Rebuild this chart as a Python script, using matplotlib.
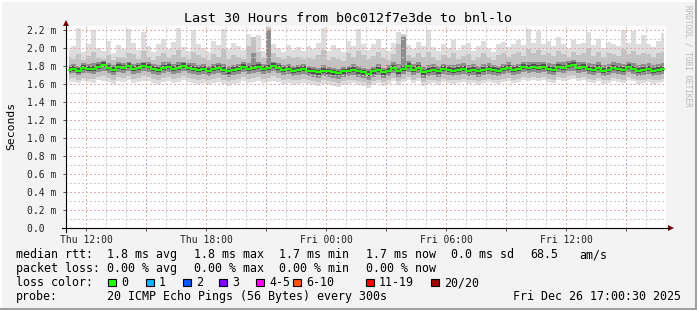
import matplotlib
matplotlib.use("Agg")
import matplotlib.pyplot as plt
from matplotlib.lines import Line2D
from matplotlib.patches import Polygon, Rectangle
import numpy as np

# ---------------- data (ms) ----------------
# one sample every 15 minutes starting Thu 11:00 (hours from start)
median = [1.76,1.77,1.75,1.78,1.77,1.77,1.79,1.81,1.78,1.76,1.79,1.78,1.80,1.77,1.78,1.80,1.79,1.77,1.76,1.78,1.79,1.77,1.78,1.80,
          1.78,1.77,1.76,1.77,1.75,1.77,1.78,1.76,1.74,1.76,1.77,1.79,1.77,1.78,1.79,1.77,1.78,1.80,1.78,1.76,1.77,1.75,1.76,1.77,
          1.75,1.74,1.73,1.75,1.74,1.73,1.72,1.74,1.75,1.76,1.74,1.73,1.71,1.74,1.76,1.73,1.75,1.78,1.74,1.77,1.80,1.76,1.78,1.73,
          1.75,1.76,1.74,1.77,1.76,1.75,1.76,1.77,1.75,1.76,1.74,1.76,1.77,1.76,1.75,1.77,1.78,1.76,1.77,1.79,1.78,1.79,1.78,1.79,
          1.77,1.76,1.79,1.78,1.80,1.81,1.78,1.79,1.77,1.76,1.78,1.75,1.76,1.78,1.77,1.76,1.79,1.77,1.75,1.76,1.77,1.75,1.76,1.77]
ping_max = [1.98,2.02,2.22,1.96,2.05,2.20,2.00,1.97,2.08,1.95,2.03,1.99,2.21,2.06,1.98,2.18,2.02,1.96,2.04,2.10,1.99,2.07,2.22,2.01,
            1.97,2.20,2.05,2.00,1.96,2.08,2.03,2.21,1.99,2.06,2.02,1.98,2.16,2.04,2.14,1.97,2.24,2.05,2.00,1.96,2.03,1.98,2.01,1.97,
            2.02,1.99,2.06,2.22,1.97,2.03,2.00,1.96,2.08,2.02,2.21,2.04,1.98,2.05,2.10,2.00,1.97,2.06,2.18,2.16,2.03,1.99,2.07,2.02,
            2.20,2.01,1.97,2.05,2.00,2.09,1.98,2.03,2.06,1.97,2.02,2.08,2.00,1.96,2.04,2.07,2.01,2.05,2.09,2.03,2.21,2.06,2.19,2.04,
            2.08,2.02,2.12,2.05,2.00,2.09,2.04,2.06,2.18,2.03,2.10,2.00,2.07,2.05,2.02,2.20,2.06,2.19,2.04,2.14,2.05,2.01,2.08,2.17]
ping_p90 = [1.90,1.88,1.93,1.87,1.91,1.96,1.89,1.88,1.92,1.87,1.90,1.89,1.95,1.93,1.88,1.97,1.90,1.87,1.91,1.94,1.89,1.92,1.98,1.90,
            1.88,1.96,1.92,1.89,1.87,1.93,1.90,1.99,1.88,1.92,1.90,1.88,2.02,2.12,1.96,1.89,2.22,1.94,1.90,1.88,1.91,1.89,1.90,1.88,
            1.89,1.88,1.92,1.98,1.87,1.90,1.88,1.86,1.94,1.90,1.97,1.92,1.88,1.91,1.96,1.89,1.87,1.93,2.05,2.15,1.92,1.89,1.94,1.90,
            1.96,1.90,1.87,1.92,1.89,1.94,1.88,1.91,1.93,1.87,1.90,1.95,1.89,1.87,1.92,1.94,1.90,1.93,1.96,1.91,1.99,1.94,1.98,1.92,
            1.95,1.91,1.97,1.93,1.90,1.96,1.92,1.94,2.00,1.91,1.96,1.90,1.94,1.93,1.91,1.99,1.93,1.97,1.92,1.95,1.93,1.90,1.94,1.96]
ping_p75 = [1.81,1.82,1.80,1.83,1.82,1.83,1.84,1.86,1.83,1.81,1.84,1.83,1.85,1.82,1.83,1.85,1.84,1.82,1.81,1.84,1.84,1.82,1.84,1.85,
            1.83,1.83,1.81,1.82,1.80,1.82,1.83,1.82,1.80,1.81,1.82,1.84,1.83,1.95,1.85,1.82,2.20,1.85,1.83,1.81,1.82,1.80,1.81,1.82,
            1.80,1.79,1.78,1.81,1.79,1.78,1.77,1.79,1.80,1.82,1.80,1.78,1.77,1.79,1.82,1.78,1.81,1.84,1.82,2.12,1.86,1.82,1.84,1.79,
            1.81,1.82,1.80,1.82,1.81,1.81,1.82,1.83,1.81,1.82,1.80,1.82,1.83,1.81,1.80,1.82,1.84,1.81,1.82,1.85,1.84,1.85,1.84,1.85,
            1.83,1.82,1.85,1.84,1.86,1.87,1.84,1.85,1.83,1.82,1.84,1.81,1.82,1.84,1.83,1.82,1.85,1.83,1.81,1.82,1.83,1.81,1.82,1.83]
ping_p25 = [1.71,1.72,1.70,1.72,1.72,1.71,1.73,1.74,1.72,1.70,1.73,1.72,1.74,1.71,1.72,1.74,1.73,1.71,1.70,1.72,1.73,1.71,1.72,1.74,
            1.72,1.71,1.70,1.71,1.69,1.71,1.72,1.70,1.68,1.70,1.71,1.73,1.71,1.72,1.73,1.71,1.72,1.74,1.72,1.70,1.71,1.69,1.70,1.71,
            1.69,1.68,1.67,1.69,1.68,1.67,1.66,1.68,1.69,1.70,1.68,1.67,1.65,1.68,1.70,1.67,1.69,1.72,1.68,1.71,1.73,1.70,1.72,1.67,
            1.69,1.70,1.68,1.71,1.70,1.69,1.70,1.71,1.69,1.70,1.68,1.70,1.71,1.70,1.69,1.71,1.72,1.70,1.71,1.73,1.72,1.73,1.72,1.73,
            1.71,1.70,1.73,1.72,1.74,1.75,1.72,1.73,1.71,1.70,1.72,1.69,1.70,1.72,1.71,1.70,1.73,1.71,1.69,1.70,1.71,1.69,1.70,1.71]
ping_p10 = [1.66,1.67,1.65,1.67,1.66,1.66,1.68,1.69,1.67,1.65,1.68,1.67,1.69,1.66,1.67,1.69,1.68,1.66,1.65,1.67,1.68,1.66,1.67,1.69,
            1.67,1.66,1.65,1.66,1.64,1.66,1.67,1.65,1.63,1.65,1.66,1.68,1.66,1.67,1.68,1.66,1.67,1.69,1.67,1.65,1.66,1.64,1.65,1.66,
            1.64,1.63,1.62,1.64,1.63,1.62,1.61,1.63,1.64,1.65,1.63,1.62,1.60,1.63,1.65,1.62,1.64,1.67,1.63,1.66,1.68,1.65,1.67,1.62,
            1.64,1.65,1.63,1.66,1.65,1.64,1.65,1.66,1.64,1.65,1.63,1.65,1.66,1.65,1.64,1.66,1.67,1.65,1.66,1.68,1.67,1.68,1.67,1.68,
            1.66,1.65,1.68,1.67,1.69,1.70,1.67,1.68,1.66,1.65,1.67,1.64,1.65,1.67,1.66,1.65,1.68,1.66,1.64,1.65,1.66,1.64,1.65,1.66]
ping_min = [1.63,1.62,1.61,1.63,1.62,1.61,1.64,1.63,1.62,1.60,1.63,1.62,1.64,1.61,1.62,1.63,1.63,1.61,1.60,1.62,1.63,1.61,1.62,1.64,
            1.62,1.61,1.60,1.61,1.59,1.61,1.62,1.60,1.58,1.60,1.61,1.63,1.61,1.62,1.63,1.61,1.62,1.63,1.62,1.60,1.61,1.59,1.60,1.61,
            1.60,1.59,1.58,1.60,1.59,1.58,1.57,1.59,1.60,1.61,1.59,1.58,1.56,1.59,1.61,1.58,1.60,1.63,1.59,1.62,1.64,1.61,1.63,1.58,
            1.60,1.61,1.59,1.62,1.61,1.60,1.61,1.62,1.60,1.61,1.59,1.61,1.62,1.61,1.60,1.62,1.63,1.61,1.62,1.64,1.63,1.64,1.63,1.64,
            1.62,1.61,1.64,1.63,1.65,1.66,1.63,1.64,1.62,1.61,1.63,1.60,1.61,1.63,1.62,1.61,1.64,1.63,1.60,1.61,1.62,1.60,1.61,1.62]
sample_hours = 0.25  # sampling step in hours

y_ticks = [0.0, 0.2, 0.4, 0.6, 0.8, 1.0, 1.2, 1.4, 1.6, 1.8, 2.0, 2.2]
y_labels = ["0.0  ", "0.2 m", "0.4 m", "0.6 m", "0.8 m", "1.0 m", "1.2 m", "1.4 m", "1.6 m", "1.8 m", "2.0 m", "2.2 m"]
x_tick_hours = [1, 7, 13, 19, 25]
x_tick_labels = ["Thu 12:00", "Thu 18:00", "Fri 00:00", "Fri 06:00", "Fri 12:00"]

title = "Last 30 Hours from b0c012f7e3de to bnl-lo"
loss_labels = ["0", "1", "2", "3", "4-5", "6-10", "11-19", "20/20"]
loss_colors = ["#26ff00", "#00b8ff", "#0059ff", "#7e00ff", "#ff00ff", "#ff5500", "#ff0000", "#a10000"]

# ---------------- figure ----------------
W, H = 697, 310
DPI = 100
BG = "#f3f3f3"
MONO = "DejaVu Sans Mono"

fig = plt.figure(figsize=(W / DPI, H / DPI), dpi=DPI, facecolor=BG)

def fx(px):
    return px / W

def fy(py):
    return 1 - py / H

ax_l, ax_r, ax_t, ax_b = 66, 666, 25.5, 228
ax = fig.add_axes([fx(ax_l), fy(ax_b), (ax_r - ax_l) / W, (ax_b - ax_t) / H])
ax.set_facecolor("white")
ax.set_xlim(0, 30)
ax.set_ylim(0, 2.25)

x = np.arange(len(median)) * sample_hours + sample_hours / 2
mn, p10, p25, p75, p90, mx = map(np.array, (ping_min, ping_p10, ping_p25, ping_p75, ping_p90, ping_max))
med = np.array(median)

ax.fill_between(x, mn, mx, step="mid", color="#dddddd", lw=0, zorder=1)
ax.fill_between(x, p10, p90, step="mid", color="#c2c2c2", lw=0, zorder=2)
ax.fill_between(x, p25, p75, step="mid", color="#8e8e8e", lw=0, zorder=3)
ax.fill_between(x, med - 0.025, med + 0.03, step="mid", color="#505050", lw=0, zorder=3.5)

# grid (1px dots, small gaps)
dot = (0, (1, 1.5))
RED, GRAY = "#eba8a8", "#cbcbcb"
for h in range(0, 31):
    ax.axvline(h, color=RED if h % 3 == 1 else GRAY, lw=1.0, ls=dot, zorder=4, antialiased=False)
for k in range(1, 23):
    ax.axhline(k / 10, color=RED if k % 2 == 0 else GRAY, lw=1.0, ls=dot, zorder=4, antialiased=False)

ax.step(x, med, where="mid", color="#26ff00", lw=1.5, zorder=5)

for s in ax.spines.values():
    s.set_visible(False)

ax.set_yticks(y_ticks)
ax.set_yticklabels(y_labels, fontfamily=MONO, fontsize=7, color="#222222")
major_x = list(range(1, 30, 3))
ax.set_xticks(major_x)
ax.set_xticklabels([x_tick_labels[x_tick_hours.index(h)] if h in x_tick_hours else "" for h in major_x],
                   fontfamily=MONO, fontsize=7, color="#222222")
ax.tick_params(axis="both", length=2, width=0.72, color="#555555", pad=3)
ax.tick_params(axis="y", pad=5)

# axis lines with arrows
fig.add_artist(Line2D([fx(66), fx(66)], [fy(232), fy(24)], color="black", lw=0.8))
fig.add_artist(Line2D([fx(62), fx(669)], [fy(228), fy(228)], color="black", lw=0.8))
fig.add_artist(Polygon([[fx(63), fy(26)], [fx(69), fy(26)], [fx(66), fy(20)]], closed=True,
                       color="#7f0000", lw=0))
fig.add_artist(Polygon([[fx(668), fy(225)], [fx(668), fy(231)], [fx(674), fy(228)]], closed=True,
                       color="#7f0000", lw=0))

# title and labels
fig.text(fx(348), fy(18.5), title, fontfamily=MONO, fontsize=9.6, ha="center", va="center", color="black")
fig.text(fx(11), fy(126), "Seconds", fontfamily=MONO, fontsize=8.2, rotation=90, ha="center", va="center")
fig.text(fx(688), fy(5), "RRDTOOL / TOBI OETIKER", fontfamily=MONO, fontsize=5.6, rotation=270,
         ha="center", va="top", color="#b8b8b8")

# legend
FS = 8.4
def t(px, base, s, **kw):
    fig.text(fx(px), fy(base), s, fontfamily=MONO, fontsize=FS, va="baseline", color="black", **kw)

rows = [258, 272, 286, 300]
t(16, rows[0], "median rtt:")
for px, s in [(107, "1.8 ms avg"), (194, "1.8 ms max"), (279, "1.7 ms min"), (366, "1.7 ms now"),
              (451, "0.0 ms sd"), (530, "68.5"), (579, "am/s")]:
    t(px, rows[0], s)
t(16, rows[1], "packet loss:")
for px, s in [(107, "0.00 % avg"), (194, "0.00 % max"), (279, "0.00 % min"), (366, "0.00 % now")]:
    t(px, rows[1], s)
t(16, rows[2], "loss color:")
box_x = [108, 146, 183, 219, 256, 293, 366, 431]
for bx, lab, col in zip(box_x, loss_labels, loss_colors):
    fig.add_artist(Rectangle((fx(bx), fy(286)), 7.5 / W, 7.5 / H, facecolor=col, edgecolor="black", lw=0.8))
    t(bx + 13, rows[2], lab)
t(16, rows[3], "probe:")
t(107, rows[3], "20 ICMP Echo Pings (56 Bytes) every 300s")
t(681, rows[3], "Fri Dec 26 17:00:30 2025", ha="right")

# 3D border
fig.add_artist(Line2D([0, 1], [fy(0.5), fy(0.5)], color="#ffffff", lw=1.5))
fig.add_artist(Line2D([fx(0.5), fx(0.5)], [0, 1], color="#ffffff", lw=1.5))
fig.add_artist(Line2D([0, 1], [fy(309), fy(309)], color="#a0a0a0", lw=1.5))
fig.add_artist(Line2D([fx(696), fx(696)], [0, 1], color="#a0a0a0", lw=1.5))

fig.savefig("out.png", dpi=DPI, facecolor=BG)
